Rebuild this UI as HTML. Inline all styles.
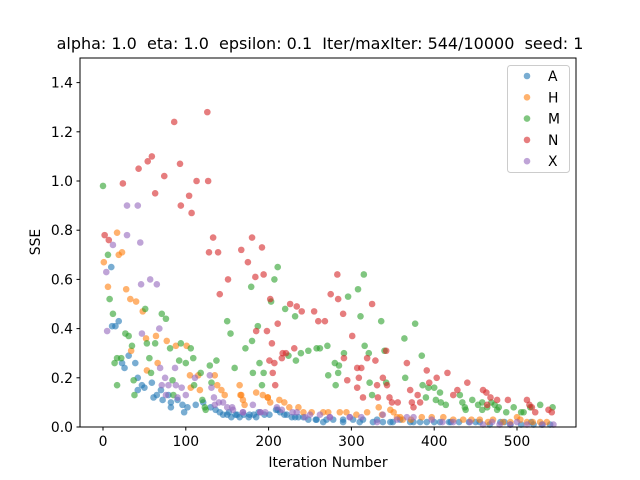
<!DOCTYPE html>
<html><head><meta charset="utf-8">
<style>
html,body{margin:0;padding:0;background:#fff;}
svg{display:block;font-family:"DejaVu Sans","Liberation Sans",sans-serif;}
</style></head>
<body>
<svg id="chart" width="640" height="480" viewBox="0 0 640 480">
  <rect x="0" y="0" width="640" height="480" fill="#fff"/>
  <text x="320" y="49" text-anchor="middle" font-size="16" fill="#000" style="white-space:pre" xml:space="preserve">alpha: 1.0  eta: 1.0  epsilon: 0.1  Iter/maxIter: 544/10000  seed: 1</text>
  <g id="xticks"></g>
  <g id="yticks"></g>
  <g id="marks"></g>
  <rect x="80" y="58" width="496" height="369" fill="none" stroke="#000" stroke-width="1"/>
  <text x="328" y="467" text-anchor="middle" font-size="13.9">Iteration Number</text>
  <text x="0" y="0" transform="translate(40,242) rotate(-90)" text-anchor="middle" font-size="13.9">SSE</text>
  <g id="legend">
    <rect x="507.5" y="65.5" width="62" height="107" rx="3" fill="#fff" fill-opacity="0.8" stroke="#ccc"/>
  </g>
</svg>
<script>
const xTicks=[0,100,200,300,400,500];
const yTicks=[0.0,0.2,0.4,0.6,0.8,1.0,1.2,1.4];
const seriesNames=["A","H","M","N","X"];
const seriesColors=["#1f77b4","#ff7f0e","#2ca02c","#d62728","#9467bd"];

const aX=[10,11,15,19,23,26,31,39,42,42,47,50,59,61,65,70,72,79,82,82,90,96,98,102,112,121,130,136,141,145,150,155,160,165,170,176,182,188,195,201,209,214,219,228,236,248,257,266,278,290,302,314,326,338,347,359,371,383,391,400,407,418,430,442,455,467,480,492,505,517,530,540,162,177,211,222,242,258,290,331,152,185,232,270,310,350,375,420,450,485,520];
const aY=[0.65,0.41,0.41,0.43,0.26,0.24,0.29,0.26,0.20,0.15,0.17,0.16,0.18,0.12,0.13,0.15,0.11,0.13,0.10,0.08,0.11,0.09,0.06,0.08,0.09,0.10,0.08,0.07,0.06,0.05,0.05,0.04,0.05,0.04,0.05,0.04,0.05,0.06,0.05,0.05,0.07,0.06,0.05,0.04,0.04,0.03,0.03,0.02,0.03,0.02,0.03,0.03,0.02,0.02,0.02,0.03,0.02,0.02,0.02,0.02,0.02,0.02,0.02,0.02,0.02,0.01,0.02,0.01,0.01,0.02,0.01,0.01,0.05,0.05,0.07,0.05,0.04,0.03,0.03,0.03,0.06,0.04,0.04,0.03,0.02,0.02,0.02,0.02,0.02,0.02,0.01];

const hX=[1,6,17,19,23,28,33,40,48,34,52,53,64,66,77,88,101,105,115,106,117,135,138,143,147,165,167,169,171,185,193,199,202,213,219,225,236,242,252,266,272,286,294,306,319,333,337,347,351,355,359,362,372,385,397,411,423,435,445,455,465,471,483,492,500,504,512,519,528,536,166,199];
const hY=[0.67,0.57,0.79,0.70,0.71,0.56,0.52,0.51,0.47,0.31,0.36,0.23,0.37,0.26,0.35,0.33,0.33,0.21,0.21,0.16,0.15,0.21,0.17,0.15,0.13,0.17,0.13,0.11,0.09,0.14,0.13,0.12,0.10,0.11,0.10,0.08,0.08,0.06,0.06,0.06,0.06,0.06,0.06,0.05,0.06,0.08,0.05,0.07,0.06,0.04,0.04,0.03,0.03,0.04,0.04,0.04,0.03,0.03,0.03,0.03,0.02,0.03,0.02,0.02,0.04,0.03,0.02,0.02,0.02,0.02,0.13,0.12];

const mX=[0,6,8,12,14,17,17,22,27,31,35,37,38,51,53,56,58,63,71,76,81,84,85,92,94,100,106,109,110,118,120,123,124,129,131,137,150,154,159,172,179,180,181,187,189,192,194,203,207,211,220,224,232,233,239,248,258,262,271,272,280,281,284,285,291,296,308,311,315,316,321,322,325,336,340,342,364,365,377,385,386,390,393,400,402,407,408,414,431,434,437,438,446,453,458,458,464,469,473,476,478,487,496,505,508,516,528,543];
const mY=[0.98,0.70,0.52,0.46,0.26,0.17,0.28,0.28,0.38,0.37,0.33,0.19,0.13,0.48,0.34,0.28,0.22,0.34,0.46,0.44,0.32,0.19,0.13,0.27,0.34,0.26,0.32,0.28,0.17,0.22,0.11,0.08,0.07,0.25,0.18,0.27,0.43,0.38,0.24,0.32,0.57,0.35,0.22,0.41,0.26,0.17,0.22,0.51,0.60,0.65,0.48,0.29,0.45,0.27,0.30,0.31,0.32,0.32,0.33,0.21,0.26,0.17,0.22,0.25,0.30,0.53,0.56,0.45,0.62,0.33,0.30,0.18,0.13,0.43,0.31,0.18,0.36,0.20,0.42,0.29,0.17,0.12,0.16,0.16,0.11,0.14,0.10,0.09,0.13,0.10,0.08,0.07,0.11,0.09,0.10,0.07,0.08,0.10,0.09,0.07,0.08,0.06,0.08,0.06,0.06,0.08,0.09,0.08];

const nX=[2,7,24,43,54,59,63,74,86,93,94,104,107,113,126,127,128,133,139,141,151,167,175,180,184,192,194,202,211,217,221,185,198,204,201,207,205,208,216,226,234,240,231,255,260,268,275,283,284,290,301,291,295,307,307,309,312,314,319,325,329,331,332,338,342,343,346,349,356,367,371,373,375,380,383,391,394,403,416,423,428,440,459,463,468,464,476,489,512,515,518,522,538,542];
const nY=[0.78,0.76,0.99,1.05,1.08,1.10,0.95,1.02,1.24,1.07,0.90,0.94,0.87,1.00,1.28,1.00,0.71,0.77,0.71,0.54,0.60,0.72,0.67,0.77,0.61,0.73,0.62,0.52,0.42,0.30,0.30,0.39,0.39,0.34,0.27,0.26,0.22,0.17,0.28,0.50,0.49,0.47,0.32,0.47,0.43,0.43,0.54,0.62,0.52,0.46,0.37,0.28,0.19,0.24,0.16,0.20,0.24,0.12,0.28,0.50,0.27,0.17,0.12,0.20,0.31,0.17,0.12,0.10,0.10,0.26,0.15,0.10,0.08,0.13,0.10,0.23,0.18,0.20,0.22,0.13,0.15,0.18,0.15,0.14,0.12,0.09,0.11,0.11,0.11,0.09,0.08,0.06,0.07,0.06];

const xX=[29,42,29,45,12,4,46,57,65,5,68,47,69,87,75,79,88,95,71,76,90,100,111,129,131,134,135,145,156,169,181,190,196,210,216,229,244,262,274,298,312,331,367,375,397,423,443,459,479,492,512,531,544,140,150,157,169,190,234,250,274,298,338,355,410,470,500];
const xY=[0.90,0.90,0.78,0.75,0.74,0.63,0.58,0.60,0.58,0.39,0.40,0.38,0.24,0.24,0.20,0.17,0.17,0.16,0.17,0.13,0.12,0.13,0.20,0.21,0.16,0.12,0.09,0.10,0.08,0.06,0.09,0.06,0.06,0.08,0.07,0.06,0.04,0.05,0.04,0.04,0.04,0.02,0.04,0.04,0.03,0.02,0.02,0.01,0.01,0.01,0.01,0.01,0.01,0.10,0.08,0.07,0.06,0.06,0.06,0.05,0.04,0.04,0.05,0.03,0.02,0.02,0.02];

const NS="http://www.w3.org/2000/svg";
function sx(v){return 103+v*0.828;}
function sy(v){return 427-v*246;}

const xg=document.getElementById('xticks');
xTicks.forEach(t=>{
  const l=document.createElementNS(NS,'line');
  l.setAttribute('x1',sx(t));l.setAttribute('x2',sx(t));l.setAttribute('y1',427);l.setAttribute('y2',430.5);
  l.setAttribute('stroke','#000');
  
  
  xg.appendChild(l);
  const tx=document.createElementNS(NS,'text');
  tx.setAttribute('x',sx(t));tx.setAttribute('y',446);tx.setAttribute('text-anchor','middle');tx.setAttribute('font-size','13.9');
  tx.textContent=String(t);
  
  
  xg.appendChild(tx);
});
const yg=document.getElementById('yticks');
yTicks.forEach(t=>{
  const l=document.createElementNS(NS,'line');
  l.setAttribute('x1',76.5);l.setAttribute('x2',80);l.setAttribute('y1',sy(t));l.setAttribute('y2',sy(t));
  l.setAttribute('stroke','#000');
  
  
  yg.appendChild(l);
  const tx=document.createElementNS(NS,'text');
  tx.setAttribute('x',73);tx.setAttribute('y',sy(t)+5);tx.setAttribute('text-anchor','end');tx.setAttribute('font-size','13.9');
  tx.textContent=t.toFixed(1);
  
  
  yg.appendChild(tx);
});

const allX=[aX,hX,mX,nX,xX], allY=[aY,hY,mY,nY,xY];
const mg=document.getElementById('marks');
seriesNames.forEach((name,si)=>{
  const g=document.createElementNS(NS,'g');
  
  
  allX[si].forEach((xv,i)=>{
    const c=document.createElementNS(NS,'circle');
    c.setAttribute('cx',sx(xv));c.setAttribute('cy',sy(allY[si][i]));c.setAttribute('r',3.3);
    c.setAttribute('fill',seriesColors[si]);c.setAttribute('fill-opacity','0.6');
    
    
    g.appendChild(c);
  });
  mg.appendChild(g);
});

const lg=document.getElementById('legend');
seriesNames.forEach((name,si)=>{
  const y=76+si*21.3;
  const c=document.createElementNS(NS,'circle');
  c.setAttribute('cx',527);c.setAttribute('cy',y);c.setAttribute('r',3.3);
  c.setAttribute('fill',seriesColors[si]);c.setAttribute('fill-opacity','0.6');
  
  
  lg.appendChild(c);
  const t=document.createElementNS(NS,'text');
  t.setAttribute('x',548);t.setAttribute('y',y+5);t.setAttribute('font-size','13.9');
  t.textContent=name;
  
  
  lg.appendChild(t);
});
</script>
</body></html>
